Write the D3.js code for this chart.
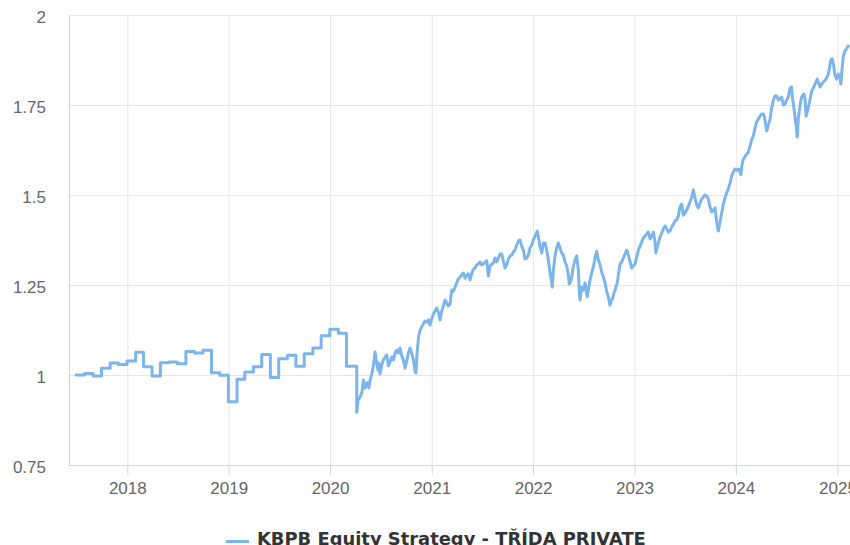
<!DOCTYPE html>
<html>
<head>
<meta charset="utf-8">
<script src="https://cdn.jsdelivr.net/npm/d3@7/dist/d3.min.js"></script>
<style>
	body { margin: 0; background: #fff; }
	svg { display: block; font-family: "DejaVu Sans", sans-serif; }
	.grid line { stroke: #e6e6e6; stroke-width: 1; }
	.grid path { display: none; }
	.axis path, .axis line { stroke: #ccd6eb; }
	.axis text { fill: #666; font-size: 17px; }
</style>
</head>
<body>
<svg id="chart" width="850" height="545"></svg>
<script>
var seriesName = "KBPB Equity Strategy - TŘÍDA PRIVATE";

var yTickValues = [0.75, 1, 1.25, 1.5, 1.75, 2];
var yTickLabels = ["0.75", "1", "1.25", "1.5", "1.75", "2"];
var xTickDates = ["2018-01-01", "2019-01-01", "2020-01-01", "2021-01-01",
	"2022-01-01", "2023-01-01", "2024-01-01", "2025-01-01"];
var xTickLabels = ["2018", "2019", "2020", "2021", "2022", "2023", "2024", "2025"];

// monthly NAV until early 2020 (drawn as steps)
var monthlyDates = [
	"2017-06-30", "2017-07-31", "2017-08-31", "2017-09-30", "2017-10-31", "2017-11-30", "2017-12-31",
	"2018-01-31", "2018-02-28", "2018-03-31", "2018-04-30", "2018-05-31", "2018-06-30",
	"2018-07-31", "2018-08-31", "2018-09-30", "2018-10-31", "2018-11-30", "2018-12-31",
	"2019-01-31", "2019-02-28", "2019-03-31", "2019-04-30", "2019-05-31", "2019-06-30",
	"2019-07-31", "2019-08-31", "2019-09-30", "2019-10-31", "2019-11-30", "2019-12-31",
	"2020-01-31", "2020-02-29"];
var monthlyValues = [
	1.000, 1.004, 0.997, 1.019, 1.033, 1.029, 1.039,
	1.063, 1.023, 0.997, 1.034, 1.036, 1.031,
	1.065, 1.061, 1.069, 1.006, 0.999, 0.926,
	0.988, 1.008, 1.023, 1.057, 0.993, 1.045,
	1.055, 1.024, 1.059, 1.075, 1.109, 1.127,
	1.116, 1.024];

// daily NAV from April 2020
var dailyDates = [
	"2020-04-06", "2020-04-11", "2020-04-18", "2020-04-25", "2020-04-30", "2020-05-06", "2020-05-13", "2020-05-20", "2020-05-24", "2020-05-31",
	"2020-06-05", "2020-06-11", "2020-06-16", "2020-06-22", "2020-06-25", "2020-06-29", "2020-07-05", "2020-07-11", "2020-07-17", "2020-07-23", "2020-07-29",
	"2020-08-04", "2020-08-10", "2020-08-16", "2020-08-22", "2020-08-28", "2020-09-03", "2020-09-09", "2020-09-15", "2020-09-21", "2020-09-27",
	"2020-10-03", "2020-10-09", "2020-10-15", "2020-10-21", "2020-10-27", "2020-11-02", "2020-11-05", "2020-11-10", "2020-11-15", "2020-11-20",
	"2020-12-02", "2020-12-08", "2020-12-14", "2020-12-20", "2020-12-26",
	"2021-01-01", "2021-01-07", "2021-01-13", "2021-01-19", "2021-01-25", "2021-01-31", "2021-02-06", "2021-02-12", "2021-02-18", "2021-02-24",
	"2021-03-02", "2021-03-08", "2021-03-14", "2021-03-20", "2021-03-26", "2021-04-01", "2021-04-07", "2021-04-13", "2021-04-19", "2021-04-25",
	"2021-05-01", "2021-05-07", "2021-05-13", "2021-05-19", "2021-05-25", "2021-05-31", "2021-06-06", "2021-06-12", "2021-06-18", "2021-06-24", "2021-06-30",
	"2021-07-06", "2021-07-12", "2021-07-18", "2021-07-24", "2021-07-30", "2021-08-05", "2021-08-11", "2021-08-17", "2021-08-23", "2021-08-29",
	"2021-09-04", "2021-09-10", "2021-09-16", "2021-09-22", "2021-09-28", "2021-10-04", "2021-10-10", "2021-10-16", "2021-10-22", "2021-10-28",
	"2021-11-03", "2021-11-09", "2021-11-15", "2021-11-21", "2021-11-27", "2021-12-03", "2021-12-09", "2021-12-15", "2021-12-21", "2021-12-27",
	"2022-01-02", "2022-01-08", "2022-01-16", "2022-01-22", "2022-01-26", "2022-02-01", "2022-02-07", "2022-02-13", "2022-02-19", "2022-02-25",
	"2022-03-03", "2022-03-08", "2022-03-11", "2022-03-15", "2022-03-21", "2022-03-27", "2022-04-02", "2022-04-08", "2022-04-14", "2022-04-20", "2022-04-26",
	"2022-05-02", "2022-05-08", "2022-05-11", "2022-05-16", "2022-05-20", "2022-05-26", "2022-06-01", "2022-06-07", "2022-06-13", "2022-06-16", "2022-06-19", "2022-06-25",
	"2022-07-01", "2022-07-07", "2022-07-15", "2022-07-19", "2022-07-25", "2022-07-31", "2022-08-06", "2022-08-12", "2022-08-18", "2022-08-24", "2022-08-30",
	"2022-09-05", "2022-09-11", "2022-09-17", "2022-09-23", "2022-09-29", "2022-10-05", "2022-10-10", "2022-10-15", "2022-10-19", "2022-10-23", "2022-10-31",
	"2022-11-05", "2022-11-10", "2022-11-16", "2022-11-22", "2022-11-28", "2022-12-04", "2022-12-09", "2022-12-13", "2022-12-22", "2022-12-28",
	"2023-01-03", "2023-01-09", "2023-01-15", "2023-01-21", "2023-01-27", "2023-02-02", "2023-02-08", "2023-02-14", "2023-02-20", "2023-02-26",
	"2023-03-04", "2023-03-10", "2023-03-16", "2023-03-19", "2023-03-24", "2023-03-28", "2023-04-03", "2023-04-09", "2023-04-15", "2023-04-21", "2023-04-27",
	"2023-05-03", "2023-05-09", "2023-05-15", "2023-05-21", "2023-05-27", "2023-06-02", "2023-06-08", "2023-06-14", "2023-06-20", "2023-06-26",
	"2023-07-02", "2023-07-08", "2023-07-14", "2023-07-20", "2023-07-26", "2023-08-01", "2023-08-07", "2023-08-13", "2023-08-19", "2023-08-25", "2023-08-31",
	"2023-09-06", "2023-09-12", "2023-09-18", "2023-09-24", "2023-09-30", "2023-10-06", "2023-10-12", "2023-10-18", "2023-10-24", "2023-10-30",
	"2023-11-05", "2023-11-11", "2023-11-17", "2023-11-23", "2023-11-29", "2023-12-05", "2023-12-11", "2023-12-17", "2023-12-23", "2023-12-29",
	"2024-01-04", "2024-01-10", "2024-01-16", "2024-01-19", "2024-01-23", "2024-01-28", "2024-02-03", "2024-02-09", "2024-02-15", "2024-02-21", "2024-02-27",
	"2024-03-04", "2024-03-10", "2024-03-16", "2024-03-22", "2024-03-28", "2024-04-03", "2024-04-09", "2024-04-13", "2024-04-21", "2024-04-26",
	"2024-05-03", "2024-05-09", "2024-05-15", "2024-05-21", "2024-05-27", "2024-06-02", "2024-06-08", "2024-06-14", "2024-06-20", "2024-06-26",
	"2024-07-02", "2024-07-08", "2024-07-14", "2024-07-19", "2024-07-24", "2024-07-28",
	"2024-08-01", "2024-08-06", "2024-08-09", "2024-08-13", "2024-08-17", "2024-08-21", "2024-08-25", "2024-08-30",
	"2024-09-02", "2024-09-06", "2024-09-10", "2024-09-14", "2024-09-18", "2024-09-24", "2024-09-30",
	"2024-10-06", "2024-10-12", "2024-10-20", "2024-10-25", "2024-10-30", "2024-11-05", "2024-11-11", "2024-11-17", "2024-11-23", "2024-11-29",
	"2024-12-03", "2024-12-08", "2024-12-13", "2024-12-18", "2024-12-23", "2024-12-29",
	"2025-01-04", "2025-01-10", "2025-01-13", "2025-01-17", "2025-01-22", "2025-01-28", "2025-02-03", "2025-02-09"];
var dailyValues = [
	0.897, 0.931, 0.939, 0.953, 0.986, 0.964, 0.978, 0.964, 0.986, 1.006,
	1.025, 1.064, 1.036, 1.014, 1.033, 1.003, 1.028, 1.042, 1.050, 1.056, 1.025,
	1.036, 1.050, 1.042, 1.061, 1.069, 1.061, 1.075, 1.053, 1.042, 1.019,
	1.039, 1.061, 1.075, 1.061, 1.042, 1.011, 1.006, 1.069, 1.108, 1.125,
	1.142, 1.150, 1.147, 1.153, 1.139,
	1.156, 1.169, 1.178, 1.186, 1.175, 1.153, 1.178, 1.192, 1.208, 1.200,
	1.192, 1.197, 1.236, 1.233, 1.244, 1.256, 1.267, 1.272, 1.278, 1.283,
	1.269, 1.278, 1.281, 1.264, 1.281, 1.294, 1.297, 1.306, 1.308, 1.314, 1.306,
	1.308, 1.314, 1.317, 1.275, 1.303, 1.308, 1.311, 1.325, 1.314, 1.325,
	1.336, 1.336, 1.317, 1.297, 1.306, 1.322, 1.331, 1.333, 1.342, 1.347,
	1.361, 1.372, 1.375, 1.358, 1.347, 1.322, 1.325, 1.333, 1.353, 1.361,
	1.375, 1.386, 1.400, 1.375, 1.356, 1.339, 1.367, 1.367, 1.347, 1.319,
	1.283, 1.264, 1.244, 1.292, 1.331, 1.353, 1.367, 1.353, 1.339, 1.333, 1.314,
	1.303, 1.278, 1.253, 1.258, 1.272, 1.303, 1.319, 1.331, 1.292, 1.236, 1.208, 1.244,
	1.236, 1.256, 1.217, 1.236, 1.264, 1.283, 1.300, 1.325, 1.344, 1.319, 1.306,
	1.286, 1.272, 1.256, 1.231, 1.217, 1.194, 1.208, 1.214, 1.228, 1.236, 1.256,
	1.283, 1.308, 1.314, 1.325, 1.336, 1.347, 1.336, 1.325, 1.297, 1.303,
	1.308, 1.328, 1.347, 1.358, 1.369, 1.381, 1.386, 1.392, 1.397, 1.378,
	1.386, 1.397, 1.369, 1.339, 1.356, 1.367, 1.383, 1.394, 1.406, 1.414, 1.406,
	1.397, 1.400, 1.411, 1.419, 1.428, 1.431, 1.442, 1.467, 1.475, 1.444,
	1.450, 1.458, 1.469, 1.481, 1.494, 1.514, 1.492, 1.472, 1.464, 1.478, 1.489,
	1.494, 1.500, 1.497, 1.489, 1.467, 1.453, 1.458, 1.464, 1.425, 1.400,
	1.425, 1.450, 1.475, 1.492, 1.506, 1.517, 1.533, 1.553, 1.564, 1.572,
	1.569, 1.572, 1.564, 1.556, 1.583, 1.600, 1.606, 1.614, 1.619, 1.636, 1.653,
	1.664, 1.686, 1.703, 1.711, 1.719, 1.725, 1.725, 1.717, 1.678, 1.692,
	1.711, 1.742, 1.764, 1.775, 1.775, 1.764, 1.767, 1.772, 1.750, 1.753,
	1.764, 1.772, 1.797, 1.800, 1.764, 1.742,
	1.717, 1.686, 1.661, 1.714, 1.736, 1.758, 1.772, 1.778,
	1.781, 1.767, 1.719, 1.731, 1.744, 1.764, 1.789,
	1.797, 1.808, 1.822, 1.811, 1.800, 1.808, 1.814, 1.819, 1.825, 1.836,
	1.853, 1.875, 1.878, 1.861, 1.831, 1.822,
	1.836, 1.831, 1.808, 1.847, 1.886, 1.900, 1.906, 1.914];

var parseDate = d3.timeParse("%Y-%m-%d");

var sizes = {
	width: 850,
	height: 545,
	left: 69,
	right: 850,
	top: 15,
	bottom: 465,
};

var x = d3.scaleTime()
	.domain([parseDate("2017-06-05"), parseDate("2025-02-15")])
	.range([sizes.left, sizes.right]);

var y = d3.scaleLinear()
	.domain([0.75, 2])
	.range([sizes.bottom, sizes.top]);

function zipSeries(dates, values) {
	return dates.map(function(d, i) {
		return { date: parseDate(d), value: values[i] };
	});
}

var monthly = zipSeries(monthlyDates, monthlyValues);
var daily = zipSeries(dailyDates, dailyValues);

var svg = d3.select("#chart");

// grid lines
svg.append("g")
	.attr("class", "grid")
	.attr("transform", "translate(" + sizes.left + ",0)")
	.call(d3.axisLeft(y)
		.tickValues(yTickValues)
		.tickSize(-(sizes.right - sizes.left))
		.tickFormat(""));

svg.append("g")
	.attr("class", "grid")
	.attr("transform", "translate(0," + sizes.bottom + ")")
	.call(d3.axisBottom(x)
		.tickValues(xTickDates.map(parseDate))
		.tickSize(-(sizes.bottom - sizes.top))
		.tickFormat(""));

// axes
var xAxis = d3.axisBottom(x)
	.tickValues(xTickDates.map(parseDate))
	.tickSize(10)
	.tickSizeOuter(0)
	.tickPadding(7)
	.tickFormat(function(d, i) { return xTickLabels[i]; });

svg.append("g")
	.attr("class", "axis x")
	.attr("transform", "translate(0," + sizes.bottom + ")")
	.call(xAxis);

var yAxis = d3.axisLeft(y)
	.tickValues(yTickValues)
	.tickSize(0)
	.tickSizeOuter(0)
	.tickPadding(23)
	.tickFormat(function(d, i) { return yTickLabels[i]; });

var yG = svg.append("g")
	.attr("class", "axis y")
	.attr("transform", "translate(" + sizes.left + ",0)")
	.call(yAxis);
yG.selectAll("text").attr("dy", "0.45em");

// series: monthly steps, then daily line
var stepLine = d3.line()
	.x(function(d) { return x(d.date); })
	.y(function(d) { return y(d.value); })
	.curve(d3.curveStepAfter);

var dailyLine = d3.line()
	.x(function(d) { return x(d.date); })
	.y(function(d) { return y(d.value); });

var series = svg.append("g")
	.attr("fill", "none")
	.attr("stroke", "#7cb5ec")
	.attr("stroke-width", 3)
	.attr("stroke-linejoin", "round")
	.attr("stroke-linecap", "round");

series.append("path")
	.attr("d", stepLine(monthly.concat([daily[0]])));

series.append("path")
	.attr("d", dailyLine(daily));

// legend
var legend = svg.append("g")
	.attr("transform", "translate(226,541.5)");

legend.append("line")
	.attr("x1", 0)
	.attr("x2", 23)
	.attr("stroke", "#7cb5ec")
	.attr("stroke-width", 3);

legend.append("text")
	.attr("x", 31)
	.attr("y", 3)
	.attr("fill", "#333")
	.attr("font-size", "17.9px")
	.attr("font-weight", "bold")
	.text(seriesName);
</script>
</body>
</html>
